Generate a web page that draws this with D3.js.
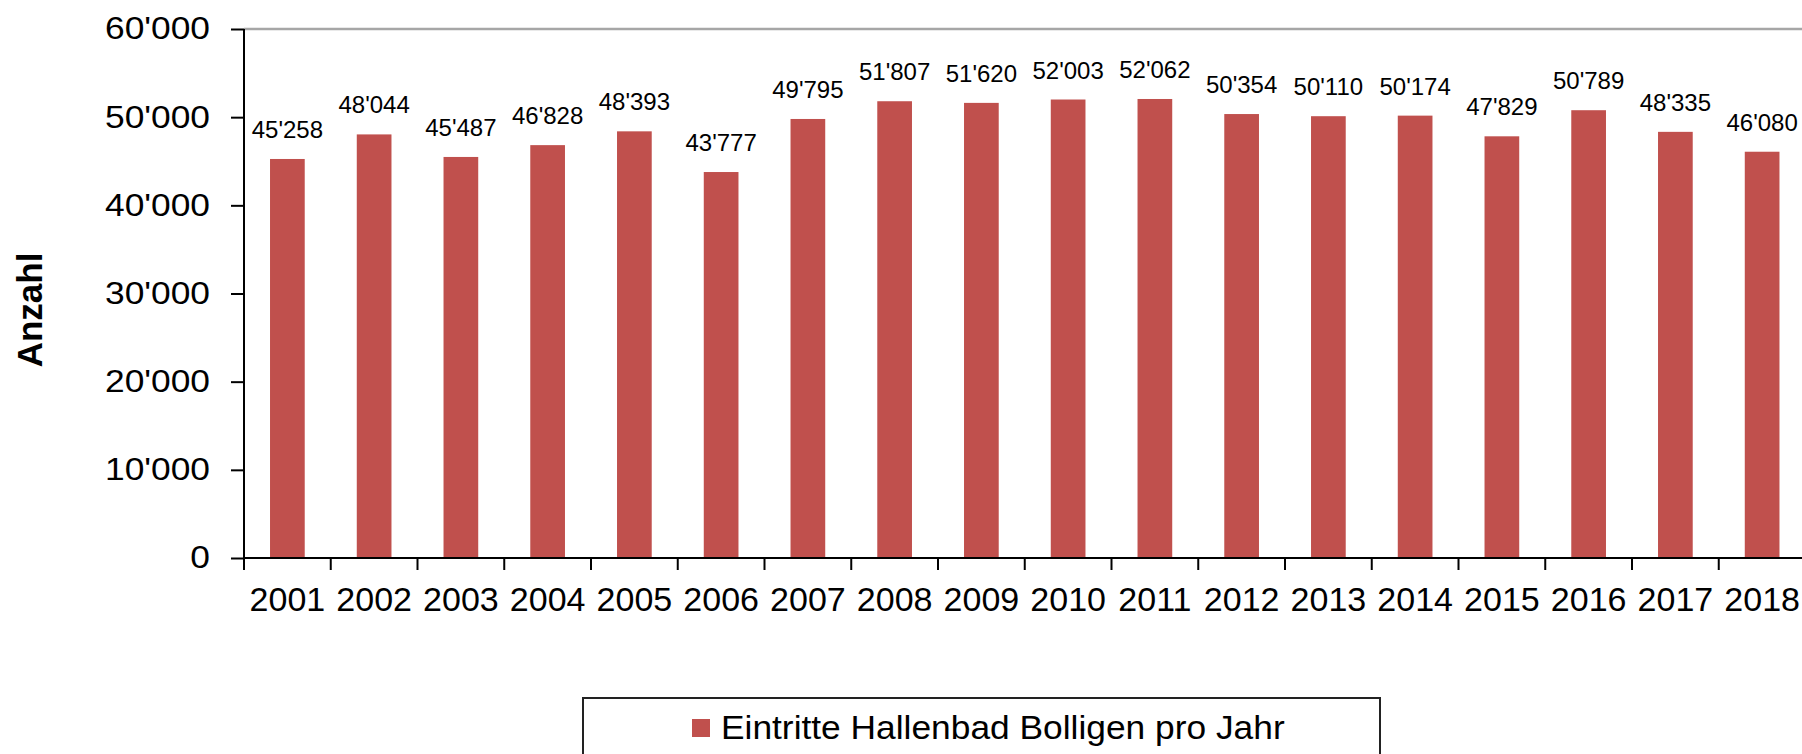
<!DOCTYPE html>
<html>
<head>
  <meta charset="utf-8">
  <script src="https://cdnjs.cloudflare.com/ajax/libs/d3/7.8.5/d3.min.js"></script>
  <style>
    body { margin: 0; padding: 0; overflow: hidden; background: #fff; }
    svg text { font-family: "Liberation Sans", Arial, sans-serif; fill: #000; }
    .axis path, .axis line { stroke: #000; stroke-width: 2px; }
  </style>
</head>
<body>
<svg width="1802" height="754"></svg>
<script>
  // data
  let years = ["2001", "2002", "2003", "2004", "2005", "2006", "2007", "2008", "2009",
    "2010", "2011", "2012", "2013", "2014", "2015", "2016", "2017", "2018"];
  let visits = [45258, 48044, 45487, 46828, 48393, 43777, 49795, 51807, 51620,
    52003, 52062, 50354, 50110, 50174, 47829, 50789, 48335, 46080];
  let yTicks = [0, 10000, 20000, 30000, 40000, 50000, 60000];
  let seriesName = "Eintritte Hallenbad Bolligen pro Jahr";
  let yTitle = "Anzahl";
  let barColor = "#c0504d";

  let svg = d3.select("svg");

  // swiss style thousands separator
  let fmt = d3.formatLocale({ decimal: ".", thousands: "'", grouping: [3], currency: ["", ""] }).format(",d");

  //scales
  let plotLeft = 244, plotTop = 29, plotBottom = 558;
  let step = 86.75;
  let x = d3.scaleBand()
    .domain(years)
    .range([plotLeft, plotLeft + step * years.length])
    .paddingInner(0.6)
    .paddingOuter(0.3);
  let y = d3.scaleLinear().domain([0, 60000]).range([plotBottom, plotTop]);

  //stretch text horizontally like the original picture
  function stretch(sel, k) {
    sel.each(function() {
      let t = d3.select(this);
      let tx = +t.attr("x") || 0;
      t.attr("x", tx / k).attr("transform", "scale(" + k + ",1)");
    });
  }

  //top border of plot area
  svg.append("line")
    .attr("x1", plotLeft).attr("x2", 1802)
    .attr("y1", y(60000)).attr("y2", y(60000))
    .attr("stroke", "#a6a6a6").attr("stroke-width", 2.5);

  //bars
  svg.selectAll(".bar")
    .data(visits)
    .enter()
    .append("rect")
    .attr("class", "bar")
    .attr("x", (d, i) => x(years[i]))
    .attr("width", x.bandwidth())
    .attr("y", d => y(d))
    .attr("height", d => y(0) - y(d))
    .attr("fill", barColor);

  //value labels
  svg.selectAll(".val")
    .data(visits)
    .enter()
    .append("text")
    .attr("class", "val")
    .attr("x", (d, i) => x(years[i]) + x.bandwidth() / 2)
    .attr("y", d => y(d) - 21)
    .attr("text-anchor", "middle")
    .style("font-size", "24px")
    .text(d => fmt(d));

  //y axis
  let gy = svg.append("g")
    .attr("class", "axis")
    .attr("transform", "translate(" + plotLeft + ",0)")
    .call(d3.axisLeft(y).tickValues(yTicks).tickFormat(fmt).tickSizeInner(13).tickSizeOuter(0).tickPadding(21));
  gy.select(".domain").attr("d", "M0," + plotTop + "V" + (plotBottom + 12));
  gy.selectAll("text").style("font-size", "31px").attr("fill", "#000");
  stretch(gy.selectAll("text"), 1.14);

  //x axis (labels centered, ticks on category boundaries)
  let gx = svg.append("g")
    .attr("class", "axis")
    .attr("transform", "translate(0," + plotBottom + ")")
    .call(d3.axisBottom(x).tickSize(0).tickPadding(29));
  gx.select(".domain").attr("d", "M" + plotLeft + ",0H1802");
  gx.selectAll("text").style("font-size", "34px").attr("fill", "#000");

  gx.selectAll(".bound")
    .data(d3.range(years.length + 1))
    .enter()
    .append("line")
    .attr("class", "bound")
    .attr("x1", i => plotLeft + i * x.step())
    .attr("x2", i => plotLeft + i * x.step())
    .attr("y1", 0).attr("y2", 12);

  //y axis title
  svg.append("text")
    .attr("transform", "translate(42,310) rotate(-90)")
    .attr("text-anchor", "middle")
    .style("font-size", "35px")
    .style("font-weight", "bold")
    .text(yTitle);

  //legend
  let legend = svg.append("g").attr("class", "legend");
  legend.append("rect")
    .attr("x", 583).attr("y", 698)
    .attr("width", 797).attr("height", 80)
    .attr("fill", "none")
    .attr("stroke", "#222").attr("stroke-width", 2);
  legend.append("rect")
    .attr("x", 692).attr("y", 719)
    .attr("width", 18).attr("height", 18)
    .attr("fill", barColor);
  let lt = legend.append("text")
    .attr("x", 721).attr("y", 739)
    .style("font-size", "33.5px")
    .text(seriesName);
  stretch(lt, 1.055);
</script>
</body>
</html>
